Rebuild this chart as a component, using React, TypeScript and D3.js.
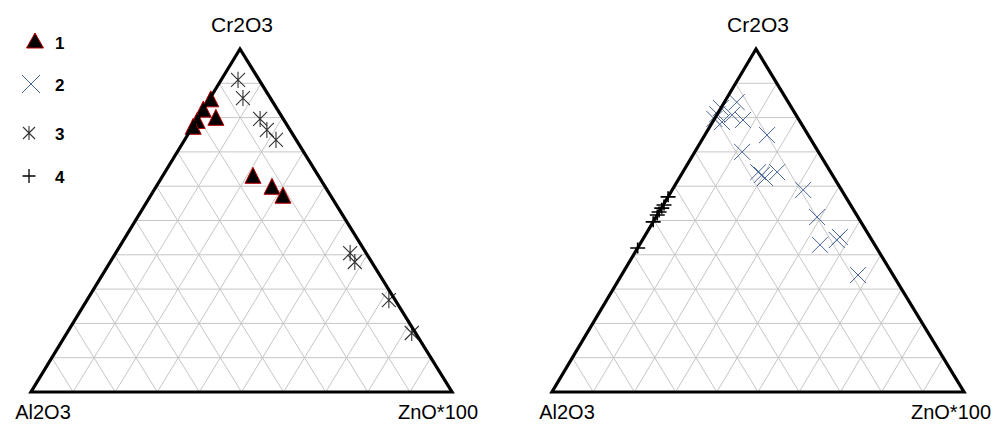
import * as d3 from 'd3';

// ternary compositions: [Cr2O3, Al2O3, ZnO*100] in %
const series1: [number, number, number][] = [
    [85, 14.5, 0.5], [82, 17.8, 0.2], [79.6, 16, 4.4], [78.7, 20.9, 0.4], [77, 22.7, 0.3],
    [62.7, 15.7, 21.6], [59.5, 12.8, 27.7], [56.9, 11.5, 31.6],
];
const series2: [number, number, number][] = [
    [82.8, 17.2, 0], [81, 19, 0], [79.6, 20.4, 0], [84.5, 12.5, 3], [79.3, 13.6, 7.1],
    [80.8, 15.5, 3.7], [78.7, 19, 2.3], [74.9, 10, 15.1], [70, 18.5, 11.5], [64.1, 17.6, 18.3],
    [62.4, 16.8, 20.8], [64.1, 13, 22.9], [63.3, 17.1, 19.6], [58.9, 9.3, 31.8], [51, 9.9, 39.1],
    [42.9, 13.3, 43.8], [44.3, 8.5, 47.2], [45.2, 7.3, 47.5], [34.1, 8.5, 57.4],
];
const series3: [number, number, number][] = [
    [91, 5, 4], [85.7, 6.5, 7.8], [79.6, 5.5, 14.9], [76.4, 5.5, 18.1], [73.5, 4.8, 21.7],
    [40.5, 3.8, 55.7], [37.9, 4, 58.1], [26.8, 1.5, 71.7], [17.2, 0.9, 81.9],
];
const series4: [number, number, number][] = [
    [56.9, 43.1, 0], [54.5, 45.3, 0.2], [53.6, 46.3, 0.1], [52.5, 47.5, 0], [51.6, 48.4, 0],
    [49.6, 50.4, 0], [42, 58, 0],
];

const axisLabels = { top: 'Cr2O3', left: 'Al2O3', right: 'ZnO*100' };
const legendLabels = ['1', '2', '3', '4'];
const gridSteps = d3.range(10, 100, 10);

const apexY = 49;
const baseY = 392;
const xColor = '#4a6496';

type Tern = { xA: number; xB: number; xC: number };

function makeProj(t: Tern) {
    const y = d3.scaleLinear().domain([0, 100]).range([baseY, apexY]);
    const bx = d3.scaleLinear().domain([0, 100]).range([0, t.xB - t.xA]);
    const cx = d3.scaleLinear().domain([0, 100]).range([0, t.xC - t.xA]);
    return (cr: number, al: number, zn: number) => {
        const s = cr + al + zn;
        const c = (cr / s) * 100;
        const b = (zn / s) * 100;
        return [t.xA + bx(b) + cx(c), y(c)] as [number, number];
    };
}

const triPath = (w: number, h: number) => `M0,${-h * 0.6}L${w / 2},${h * 0.4}L${-w / 2},${h * 0.4}Z`;
const timesPath = (r: number) => `M${-r},${-r}L${r},${r}M${-r},${r}L${r},${-r}`;
const starPath = (r: number) => `M${-r},${-r}L${r},${r}M${-r},${r}L${r},${-r}M0,${-r * 1.15}L0,${r * 1.15}`;
const plusPath = (w: number, h: number) => `M${-w},0L${w},0M0,${-h}L0,${h}`;

function Ternary({ t, labelOffsets, children }: { t: Tern; labelOffsets: { left: number; right: number }; children: (p: ReturnType<typeof makeProj>) => any }) {
    const p = makeProj(t);
    const line = d3.line();
    const grid: [number, number][][] = [];
    gridSteps.forEach((v) => {
        grid.push([p(v, 100 - v, 0), p(v, 0, 100 - v)]);
        grid.push([p(0, 100 - v, v), p(100 - v, 0, v)]);
        grid.push([p(0, v, 100 - v), p(100 - v, v, 0)]);
    });
    const outline = [p(100, 0, 0), p(0, 0, 100), p(0, 100, 0)];
    return (
        <g>
            {grid.map((seg, i) => (
                <path key={i} d={line(seg) || ''} stroke="#c6c6c6" strokeWidth={1} fill="none" />
            ))}
            {children(p)}
            <path d={(line(outline) || '') + 'Z'} fill="none" stroke="#000" strokeWidth={3.2} strokeLinejoin="miter" />
            <text x={t.xC + 2} y={32} textAnchor="middle" fontSize={21} fill="#000">{axisLabels.top}</text>
            <text x={t.xA + labelOffsets.left} y={419} textAnchor="middle" fontSize={20} fill="#000">{axisLabels.left}</text>
            <text x={t.xB + labelOffsets.right} y={419} textAnchor="middle" fontSize={20} fill="#000">{axisLabels.right}</text>
        </g>
    );
}

export default function App() {
    const leftT: Tern = { xA: 31, xB: 452, xC: 240 };
    const rightT: Tern = { xA: 552, xB: 964, xC: 756 };
    return (
        <div style={{ position: 'absolute', left: 0, top: 0 }}>
            <svg width={998} height={425} style={{ display: 'block', background: '#fff' }} fontFamily="'Liberation Sans', Arial, sans-serif">
                <Ternary t={leftT} labelOffsets={{ left: 12, right: -14 }}>
                    {(p) => (
                        <g>
                            {series3.map((d, i) => {
                                const [x, y] = p(...d);
                                return <path key={'s' + i} transform={`translate(${x},${y})`} d={starPath(7)} stroke="#333" strokeWidth={1.1} fill="none" />;
                            })}
                            {series1.map((d, i) => {
                                const [x, y] = p(...d);
                                return <path key={'t' + i} transform={`translate(${x},${y})`} d={triPath(16, 16)} fill="#000" stroke="#c00000" strokeWidth={1} />;
                            })}
                        </g>
                    )}
                </Ternary>
                <Ternary t={rightT} labelOffsets={{ left: 15, right: -13 }}>
                    {(p) => (
                        <g>
                            {series2.map((d, i) => {
                                const [x, y] = p(...d);
                                return <path key={'x' + i} transform={`translate(${x},${y})`} d={timesPath(8)} stroke={xColor} strokeWidth={1} fill="none" />;
                            })}
                            {series4.map((d, i) => {
                                const [x, y] = p(...d);
                                return <path key={'p' + i} transform={`translate(${x},${y})`} d={plusPath(7.5, 5.5)} stroke="#000" strokeWidth={1.6} fill="none" />;
                            })}
                        </g>
                    )}
                </Ternary>
                {/* legend */}
                <g>
                    <path transform="translate(35,42)" d={triPath(17, 15)} fill="#000" stroke="#c00000" strokeWidth={1} />
                    <path transform="translate(31,84)" d={timesPath(9)} stroke={xColor} strokeWidth={1} fill="none" />
                    <path transform="translate(29,133)" d={starPath(6)} stroke="#333" strokeWidth={1.1} fill="none" />
                    <path transform="translate(29,176)" d={plusPath(6.5, 7)} stroke="#000" strokeWidth={1.3} fill="none" />
                    {legendLabels.map((l, i) => (
                        <text key={l} x={55} y={[49, 91, 140, 183][i]} fontSize={17} fontWeight="bold">{l}</text>
                    ))}
                </g>
            </svg>
        </div>
    );
}
